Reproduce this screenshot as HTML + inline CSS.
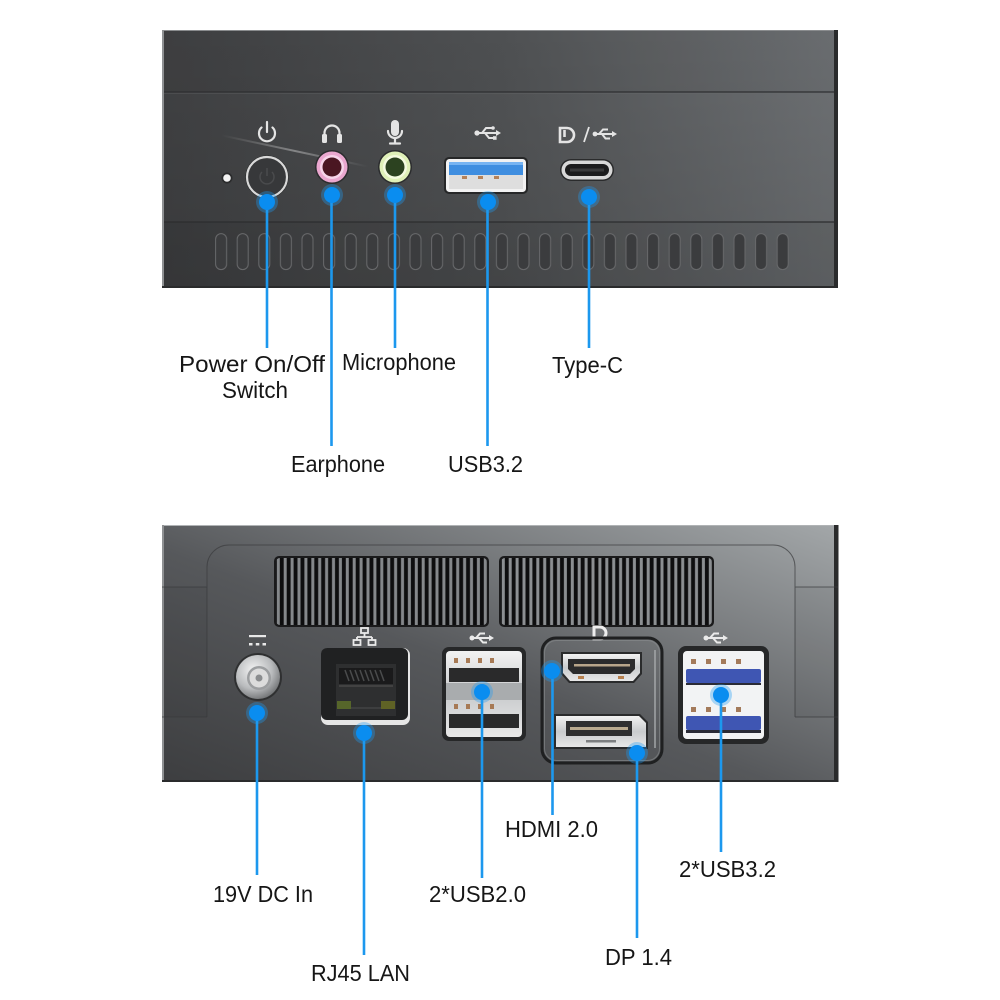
<!DOCTYPE html>
<html><head><meta charset="utf-8"><style>
html,body{margin:0;padding:0;background:#fff;}
svg{display:block;}
text{font-family:"Liberation Sans",Arial,sans-serif;font-size:23px;fill:#161616;}
</style></head><body>
<svg width="1000" height="1000" viewBox="0 0 1000 1000" xmlns="http://www.w3.org/2000/svg">
<defs>
  <linearGradient id="gTop" x1="0" y1="0" x2="1" y2="0">
    <stop offset="0" stop-color="#404143"/>
    <stop offset="0.5" stop-color="#515355"/>
    <stop offset="1" stop-color="#6e7174"/>
  </linearGradient>
  <linearGradient id="gTopShade" x1="0" y1="0" x2="0" y2="1">
    <stop offset="0" stop-color="#000" stop-opacity="0"/>
    <stop offset="1" stop-color="#000" stop-opacity="0.12"/>
  </linearGradient>
  <linearGradient id="gBot" x1="0" y1="1" x2="1" y2="0">
    <stop offset="0" stop-color="#3d3e40"/>
    <stop offset="0.45" stop-color="#56585b"/>
    <stop offset="1" stop-color="#a3a7a9"/>
  </linearGradient>
  <linearGradient id="gFlare" x1="0" y1="0" x2="1" y2="0">
    <stop offset="0" stop-color="#ffffff" stop-opacity="0"/>
    <stop offset="0.5" stop-color="#ffffff" stop-opacity="0.35"/>
    <stop offset="1" stop-color="#ffffff" stop-opacity="0"/>
  </linearGradient>
  <radialGradient id="gDC" cx="0.4" cy="0.35" r="0.7">
    <stop offset="0" stop-color="#f4f4f4"/>
    <stop offset="0.6" stop-color="#b9bbbd"/>
    <stop offset="1" stop-color="#6d6f71"/>
  </radialGradient>
  <linearGradient id="gSilver" x1="0" y1="0" x2="0" y2="1">
    <stop offset="0" stop-color="#f2f2f2"/>
    <stop offset="0.5" stop-color="#c9cbcd"/>
    <stop offset="1" stop-color="#e8e8e8"/>
  </linearGradient>
  <pattern id="pSlot" patternUnits="userSpaceOnUse" x="215" y="233" width="21.6" height="38">
    <rect x="0.6" y="0.6" width="11" height="36" rx="5.5" fill="#3b3c3e" stroke="#68696b" stroke-width="1"/>
  </pattern>
  <pattern id="pGrill" patternUnits="userSpaceOnUse" x="275" y="557" width="6.9" height="80">
    <rect x="0" y="0" width="6.9" height="80" fill="#0e0e0f"/>
    <rect x="1.8" y="0" width="3" height="80" fill="#85888b"/>
  </pattern>
  <pattern id="pGrill2" patternUnits="userSpaceOnUse" x="500" y="557" width="6.9" height="80">
    <rect x="0" y="0" width="6.9" height="80" fill="#0e0e0f"/>
    <rect x="1.8" y="0" width="3" height="80" fill="#8c8f92"/>
  </pattern>
</defs>

<!-- ================= TOP DEVICE ================= -->
<rect x="162" y="30" width="676" height="258" fill="url(#gTop)"/>
<rect x="162" y="30" width="676" height="258" fill="url(#gTopShade)"/>
<rect x="162" y="30" width="676" height="62" fill="#000" opacity="0.03"/>
<rect x="162" y="222" width="676" height="66" fill="#000" opacity="0.06"/>
<line x1="162" y1="92" x2="838" y2="92" stroke="#2e2f31" stroke-width="1.2"/>
<line x1="162" y1="93.2" x2="838" y2="93.2" stroke="#6a6c6e" stroke-width="0.6" opacity="0.6"/>
<line x1="162" y1="222" x2="838" y2="222" stroke="#2c2d2f" stroke-width="1.2"/>
<line x1="162" y1="30.5" x2="838" y2="30.5" stroke="#8a8c8e" stroke-width="1"/>
<rect x="162" y="30" width="2" height="258" fill="#8f9193"/>
<rect x="834" y="30" width="4" height="258" fill="#2a2b2c"/>
<rect x="162" y="286" width="676" height="2" fill="#2a2b2c"/>
<!-- slots -->
<rect x="215" y="233" width="574" height="38" fill="url(#pSlot)"/>
<!-- flare -->
<rect x="220" y="150" width="150" height="2" fill="url(#gFlare)" transform="rotate(12 295 151)"/>

<!-- icons top -->
<g fill="none" stroke="#e4e4e4" stroke-width="2.2" stroke-linecap="round">
  <path d="M261.5 127.5 A8 8 0 1 0 272.5 127.5"/>
  <line x1="267" y1="122" x2="267" y2="132"/>
  <path d="M324.5 139 V133 A7.5 7.5 0 0 1 339.5 133 V139"/>
  <path d="M388 131 A7 7 0 0 0 402 131"/>
  <line x1="395" y1="138" x2="395" y2="143"/>
  <line x1="390" y1="143.5" x2="400" y2="143.5"/>
</g>
<g fill="#e4e4e4">
  <rect x="322" y="134" width="5" height="9" rx="1.5"/>
  <rect x="337" y="134" width="5" height="9" rx="1.5"/>
  <rect x="391" y="120" width="8" height="16" rx="4"/>
</g>
<!-- USB symbol top -->
<g stroke="#e4e4e4" stroke-width="2" fill="#e4e4e4">
  <circle cx="477" cy="133" r="2.6" stroke="none"/>
  <line x1="477" y1="133" x2="497" y2="133"/>
  <path d="M496 130 L501 133 L496 136 Z" stroke="none"/>
  <path d="M482 133 L486 128 L492 128" fill="none"/>
  <circle cx="493" cy="128" r="1.8" stroke="none"/>
  <path d="M485 133 L489 138 L494 138" fill="none"/>
  <rect x="493" y="136.2" width="3.6" height="3.6" stroke="none"/>
</g>
<!-- DP / USB -->
<g fill="none" stroke="#e4e4e4" stroke-width="2.6">
  <path d="M560 128 H567 A7 7 0 0 1 567 142 H560 Z"/>
  <line x1="564.5" y1="130" x2="564.5" y2="137"/>
  <line x1="584" y1="142" x2="589" y2="127" stroke-width="1.8"/>
</g>
<g stroke="#e4e4e4" stroke-width="2" fill="#e4e4e4">
  <circle cx="595" cy="134" r="2.4" stroke="none"/>
  <line x1="595" y1="134" x2="613" y2="134"/>
  <path d="M612 131 L617 134 L612 137 Z" stroke="none"/>
  <path d="M599 134 L603 129.5 L608 129.5" fill="none"/>
  <path d="M602 134 L605.5 138.5 L610 138.5" fill="none"/>
</g>

<!-- power LED -->
<circle cx="227" cy="178" r="5.5" fill="#2b2c2d"/>
<circle cx="227" cy="178" r="3.8" fill="#f3f3f3"/>
<!-- power button -->
<circle cx="267" cy="177" r="21.5" fill="#1f2021"/>
<circle cx="267" cy="177" r="20" fill="#37383a" stroke="#d9d9d9" stroke-width="2.2"/>
<g fill="none" stroke="#4a4b4d" stroke-width="1.5">
  <path d="M262 172 A7 7 0 1 0 272 172"/>
  <line x1="267" y1="168" x2="267" y2="176"/>
</g>
<!-- earphone jack -->
<circle cx="332" cy="167" r="17" fill="#2b2c2e"/>
<circle cx="332" cy="167" r="15.5" fill="#eaa7cf"/>
<circle cx="332" cy="167" r="12" fill="#f7d4ea"/>
<circle cx="332" cy="167" r="9.5" fill="#4a1622"/>
<!-- mic jack -->
<circle cx="395" cy="167" r="17" fill="#2b2c2e"/>
<circle cx="395" cy="167" r="15.5" fill="#dff0b8"/>
<circle cx="395" cy="167" r="12" fill="#f4fbe0"/>
<circle cx="395" cy="167" r="9.5" fill="#2c4220"/>
<!-- USB 3.2 top -->
<rect x="444" y="157" width="84" height="37" rx="5" fill="#262728"/>
<rect x="446" y="159" width="80" height="33" rx="3.5" fill="#f2f2f2"/>
<rect x="449" y="162" width="74" height="13" fill="#3f8ee0"/>
<rect x="449" y="162" width="74" height="3" fill="#77b4f2"/>
<rect x="449" y="175" width="74" height="14" fill="#dedede"/>
<g fill="#b4825a"><rect x="462" y="176" width="5" height="3"/><rect x="478" y="176" width="5" height="3"/><rect x="494" y="176" width="5" height="3"/></g>
<!-- Type-C -->
<rect x="560" y="159" width="54" height="22" rx="11" fill="#2a2b2c"/>
<rect x="561.5" y="160.5" width="51" height="19" rx="9.5" fill="#d8d8d8"/>
<rect x="565" y="164" width="44" height="12" rx="6" fill="#1c1c1d"/>
<rect x="570" y="168.5" width="34" height="3" fill="#3a3a3b"/>

<!-- ================= BOTTOM DEVICE ================= -->
<rect x="162" y="525" width="676" height="257" fill="url(#gBot)"/>
<line x1="162" y1="525.5" x2="838" y2="525.5" stroke="#b0b3b5" stroke-width="1"/>
<rect x="162" y="525" width="2" height="257" fill="#8f9193"/>
<rect x="834" y="525" width="4.5" height="257" fill="#2a2b2c"/>
<rect x="162" y="780" width="676" height="2" fill="#2a2b2c"/>
<!-- panel outline -->
<g fill="none" stroke="#3a3b3d" stroke-width="1" opacity="0.7">
  <path d="M207 717 V567 A22 22 0 0 1 229 545 H773 A22 22 0 0 1 795 567 V717"/>
  <line x1="162" y1="587" x2="207" y2="587"/>
  <line x1="162" y1="717" x2="207" y2="717"/>
  <line x1="795" y1="587" x2="838" y2="587"/>
  <line x1="795" y1="717" x2="838" y2="717"/>
</g>
<rect x="162" y="587" width="45" height="130" fill="#000" opacity="0.04"/>
<rect x="795" y="587" width="40" height="130" fill="#000" opacity="0.04"/>
<!-- grilles -->
<rect x="274" y="556" width="215" height="71" rx="5" fill="#1a1a1b"/>
<rect x="276" y="558" width="211" height="67" rx="4" fill="url(#pGrill)"/>
<rect x="499" y="556" width="215" height="71" rx="5" fill="#1a1a1b"/>
<rect x="501" y="558" width="211" height="67" rx="4" fill="url(#pGrill2)"/>

<!-- DC icon -->
<g fill="#e8e8e8">
  <rect x="249" y="635" width="17" height="2.2"/>
  <rect x="249" y="643" width="3.5" height="2.5"/>
  <rect x="255.8" y="643" width="3.5" height="2.5"/>
  <rect x="262.5" y="643" width="3.5" height="2.5"/>
</g>
<!-- DC jack -->
<circle cx="258" cy="677" r="24" fill="#2f3031"/>
<circle cx="258" cy="677" r="22" fill="url(#gDC)"/>
<circle cx="259" cy="678" r="12" fill="#9c9ea0"/>
<circle cx="259" cy="678" r="9.5" fill="#dcdcdc"/>
<circle cx="259" cy="678" r="3.5" fill="#8a8c8e"/>

<!-- RJ45 icon -->
<g fill="none" stroke="#eaeaea" stroke-width="1.8">
  <rect x="361" y="628" width="7" height="5"/>
  <path d="M364.5 633 V637 M357 637 H372 M357 637 V640 M372 637 V640"/>
  <rect x="353.5" y="640" width="7" height="5"/>
  <rect x="368.5" y="640" width="7" height="5"/>
</g>
<!-- RJ45 port -->
<rect x="321" y="648" width="89" height="77" rx="7" fill="#e6e6e6"/>
<rect x="321" y="648" width="87" height="72" rx="6" fill="#202122"/>
<rect x="336" y="664" width="60" height="52" fill="#2e2f30"/>
<rect x="339" y="668" width="54" height="16" fill="#1a1a1b"/>
<g stroke="#4a4b4c" stroke-width="1.5">
  <line x1="345" y1="670" x2="349" y2="681"/><line x1="350" y1="670" x2="354" y2="681"/>
  <line x1="355" y1="670" x2="359" y2="681"/><line x1="360" y1="670" x2="364" y2="681"/>
  <line x1="365" y1="670" x2="369" y2="681"/><line x1="370" y1="670" x2="374" y2="681"/>
  <line x1="375" y1="670" x2="379" y2="681"/><line x1="380" y1="670" x2="384" y2="681"/>
</g>
<line x1="339" y1="686" x2="393" y2="686" stroke="#555" stroke-width="1"/>
<rect x="337" y="701" width="14" height="8" fill="#56652a"/>
<rect x="381" y="701" width="14" height="8" fill="#5f6225"/>
<rect x="351" y="707" width="30" height="2" fill="#3d3e3f"/>

<!-- USB icon mid -->
<g stroke="#eaeaea" stroke-width="2" fill="#eaeaea">
  <circle cx="472" cy="638" r="2.5" stroke="none"/>
  <line x1="472" y1="638" x2="490" y2="638"/>
  <path d="M489 635 L494 638 L489 641 Z" stroke="none"/>
  <path d="M476 638 L480 633.5 L485 633.5" fill="none"/>
  <path d="M479 638 L483 642.5 L487 642.5" fill="none"/>
</g>
<!-- USB2.0 port -->
<rect x="442" y="647" width="84" height="94" rx="7" fill="#262728"/>
<rect x="446" y="651" width="76" height="86" rx="4" fill="url(#gSilver)"/>
<g fill="#a77a55">
  <rect x="454" y="658" width="4" height="5"/><rect x="466" y="658" width="4" height="5"/>
  <rect x="478" y="658" width="4" height="5"/><rect x="490" y="658" width="4" height="5"/>
  <rect x="454" y="704" width="4" height="5"/><rect x="466" y="704" width="4" height="5"/>
  <rect x="478" y="704" width="4" height="5"/><rect x="490" y="704" width="4" height="5"/>
</g>
<rect x="449" y="668" width="70" height="14" fill="#2a2a2b"/>
<rect x="446" y="683" width="76" height="17" fill="#a9acae"/>
<rect x="449" y="714" width="70" height="14" fill="#2a2a2b"/>

<!-- DP icon -->
<g fill="none" stroke="#eeeeee" stroke-width="3">
  <path d="M594 627 H600 A6 6 0 0 1 600 639 H594 Z"/>
</g>
<!-- HDMI/DP panel -->
<rect x="542" y="638" width="120" height="125" rx="14" fill="none" stroke="#1f2021" stroke-width="3"/>
<rect x="544.5" y="640.5" width="115" height="120" rx="12" fill="none" stroke="#8a8d90" stroke-width="1" opacity="0.6"/>
<path d="M655 650 V748" stroke="#a8abad" stroke-width="2" opacity="0.7"/>
<!-- HDMI -->
<path d="M561 652 H642 V674 L634 683 H569 L561 674 Z" fill="#2a2b2c"/>
<path d="M563 654 H640 V673 L633 681 H570 L563 673 Z" fill="url(#gSilver)"/>
<path d="M568 659 H635 V669 L630 674 H573 L568 669 Z" fill="#2b2b2c"/>
<rect x="574" y="664" width="56" height="2.5" fill="#b8a58a"/>
<rect x="578" y="676" width="6" height="3" fill="#b7804e"/>
<rect x="618" y="676" width="6" height="3" fill="#b7804e"/>
<!-- DP -->
<path d="M554 714 H640 L648 722 V749 H554 Z" fill="#2a2b2c"/>
<path d="M556 716 H639 L646 723 V747 H556 Z" fill="url(#gSilver)"/>
<rect x="566" y="721" width="66" height="15" fill="#2f2f30"/>
<rect x="570" y="727" width="58" height="3" fill="#b9a98e"/>
<rect x="586" y="740" width="30" height="2.5" fill="#7d7f81"/>

<!-- USB icon right -->
<g stroke="#eaeaea" stroke-width="2" fill="#eaeaea">
  <circle cx="706" cy="638" r="2.5" stroke="none"/>
  <line x1="706" y1="638" x2="724" y2="638"/>
  <path d="M723 635 L728 638 L723 641 Z" stroke="none"/>
  <path d="M710 638 L714 633.5 L719 633.5" fill="none"/>
  <path d="M713 638 L717 642.5 L721 642.5" fill="none"/>
</g>
<!-- USB3.2 port -->
<rect x="678" y="646" width="91" height="98" rx="8" fill="#262728"/>
<rect x="683" y="651" width="81" height="88" rx="4" fill="#f2f3f4"/>
<g fill="#a37a5a">
  <rect x="691" y="659" width="5" height="5"/><rect x="706" y="659" width="5" height="5"/>
  <rect x="721" y="659" width="5" height="5"/><rect x="736" y="659" width="5" height="5"/>
  <rect x="691" y="707" width="5" height="5"/><rect x="706" y="707" width="5" height="5"/>
  <rect x="721" y="707" width="5" height="5"/><rect x="736" y="707" width="5" height="5"/>
</g>
<rect x="686" y="669" width="75" height="14" rx="2" fill="#3f56b3"/>
<rect x="686" y="716" width="75" height="14" rx="2" fill="#3f56b3"/>
<rect x="686" y="683" width="75" height="2" fill="#2a2b36"/>
<rect x="686" y="730" width="75" height="3" fill="#2a2b36"/>

<!-- ================= CALLOUT LINES ================= -->
<g stroke="#1c98ee" stroke-width="2.6">
  <line x1="267" y1="202" x2="267" y2="348"/>
  <line x1="331.5" y1="195" x2="331.5" y2="446"/>
  <line x1="395" y1="195" x2="395" y2="348"/>
  <line x1="487.5" y1="202" x2="487.5" y2="446"/>
  <line x1="589" y1="197" x2="589" y2="348"/>
  <line x1="257" y1="713" x2="257" y2="875"/>
  <line x1="364" y1="733" x2="364" y2="955"/>
  <line x1="482" y1="692" x2="482" y2="878"/>
  <line x1="552.5" y1="671" x2="552.5" y2="815"/>
  <line x1="637" y1="753" x2="637" y2="938"/>
  <line x1="721" y1="695" x2="721" y2="852"/>
</g>
<g fill="#1f9cf4" opacity="0.35">
  <circle cx="267" cy="202" r="11"/><circle cx="332" cy="195" r="11"/><circle cx="395" cy="195" r="11"/>
  <circle cx="488" cy="202" r="11"/><circle cx="589" cy="197" r="11"/>
  <circle cx="257" cy="713" r="11"/><circle cx="364" cy="733" r="11"/><circle cx="482" cy="692" r="11"/>
  <circle cx="552" cy="671" r="11"/><circle cx="637" cy="753" r="11"/><circle cx="721" cy="695" r="11"/>
</g>
<g fill="#0a8df0">
  <circle cx="267" cy="202" r="8"/><circle cx="332" cy="195" r="8"/><circle cx="395" cy="195" r="8"/>
  <circle cx="488" cy="202" r="8"/><circle cx="589" cy="197" r="8"/>
  <circle cx="257" cy="713" r="8"/><circle cx="364" cy="733" r="8"/><circle cx="482" cy="692" r="8"/>
  <circle cx="552" cy="671" r="8"/><circle cx="637" cy="753" r="8"/><circle cx="721" cy="695" r="8"/>
</g>

<!-- ================= LABELS ================= -->
<text x="179" y="372" textLength="146" lengthAdjust="spacingAndGlyphs">Power On/Off</text>
<text x="222" y="398" textLength="66" lengthAdjust="spacingAndGlyphs">Switch</text>
<text x="342" y="370" textLength="114" lengthAdjust="spacingAndGlyphs">Microphone</text>
<text x="552" y="373" textLength="71" lengthAdjust="spacingAndGlyphs">Type-C</text>
<text x="291" y="472" textLength="94" lengthAdjust="spacingAndGlyphs">Earphone</text>
<text x="448" y="472" textLength="75" lengthAdjust="spacingAndGlyphs">USB3.2</text>

<text x="213" y="902" textLength="100" lengthAdjust="spacingAndGlyphs">19V DC In</text>
<text x="311" y="981" textLength="99" lengthAdjust="spacingAndGlyphs">RJ45 LAN</text>
<text x="429" y="902" textLength="97" lengthAdjust="spacingAndGlyphs">2*USB2.0</text>
<text x="505" y="837" textLength="93" lengthAdjust="spacingAndGlyphs">HDMI 2.0</text>
<text x="605" y="965" textLength="67" lengthAdjust="spacingAndGlyphs">DP 1.4</text>
<text x="679" y="877" textLength="97" lengthAdjust="spacingAndGlyphs">2*USB3.2</text>
</svg>
</body></html>
